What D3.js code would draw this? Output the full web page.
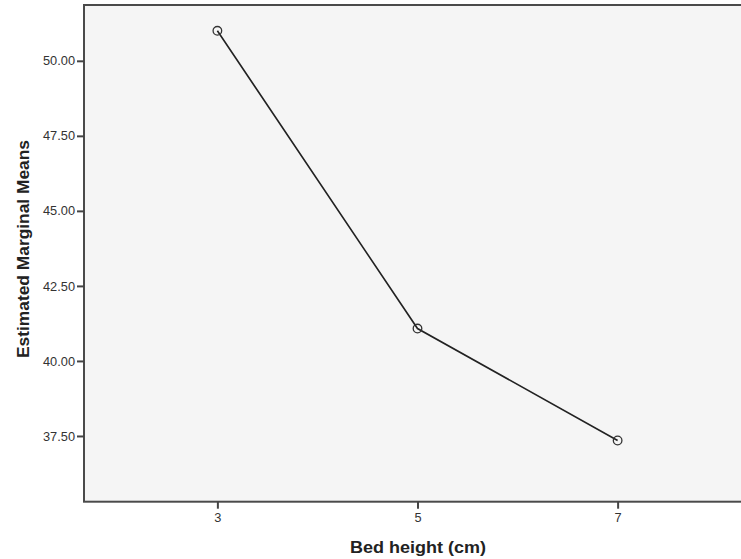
<!DOCTYPE html>
<html><head><meta charset="utf-8">
<script src="https://cdn.jsdelivr.net/npm/d3@7"></script>
<style>body{margin:0;background:#fff;}svg{display:block;}</style>
</head><body>
<svg id="c" width="741" height="559"></svg>
<script>
const categories = [3, 5, 7];
const means = [51.0, 41.08, 37.35];
const yTicks = [37.5, 40, 42.5, 45, 47.5, 50];
const xLabel = "Bed height (cm)";
const yLabel = "Estimated Marginal Means";

const svg = d3.select("#c");
const L = 84, R = 751, T = 5, B = 501.7;
const x = d3.scaleLinear().domain([1.667, 8.333]).range([L, R]);
const y = d3.scaleLinear().domain([35.31, 51.86]).range([B, T]);
const font = "Arial, 'Liberation Sans', sans-serif";

svg.append("rect").attr("x", L).attr("y", T).attr("width", R - L).attr("height", B - T)
  .attr("fill", "#f5f5f5").attr("stroke", "#4a4a4a").attr("stroke-width", 2);

const ya = svg.append("g").attr("transform", `translate(${L},0)`)
  .call(d3.axisLeft(y).tickValues(yTicks).tickFormat(d3.format(".2f")).tickSize(7).tickPadding(2));
const xa = svg.append("g").attr("transform", `translate(0,${B})`)
  .call(d3.axisBottom(x).tickValues(categories).tickFormat(d3.format("d")).tickSize(7).tickPadding(4));
[ya, xa].forEach(a => {
  a.select(".domain").remove();
  a.selectAll("line").attr("stroke", "#444").attr("stroke-width", 2);
  a.selectAll("text").attr("fill", "#333").style("font-family", font).style("font-size", "12.8px");
});

const pts = categories.map((c, i) => [c, means[i]]);
svg.append("path").datum(pts)
  .attr("d", d3.line().x(d => x(d[0])).y(d => y(d[1])))
  .attr("fill", "none").attr("stroke", "#222").attr("stroke-width", 1.6);
svg.selectAll("circle.p").data(pts).enter().append("circle")
  .attr("cx", d => x(d[0])).attr("cy", d => y(d[1])).attr("r", 4.3)
  .attr("fill", "none").attr("stroke", "#333").attr("stroke-width", 1.3);

svg.append("text").attr("x", 418).attr("y", 553).attr("text-anchor", "middle")
  .attr("textLength", 136).attr("lengthAdjust", "spacingAndGlyphs")
  .style("font-family", font).style("font-size", "16px").style("font-weight", "bold")
  .attr("fill", "#222").text(xLabel);
svg.append("text").attr("transform", `translate(28.5,249) rotate(-90)`).attr("text-anchor", "middle")
  .attr("textLength", 218).attr("lengthAdjust", "spacingAndGlyphs")
  .style("font-family", font).style("font-size", "16px").style("font-weight", "bold")
  .attr("fill", "#222").text(yLabel);
</script>
</body></html>
